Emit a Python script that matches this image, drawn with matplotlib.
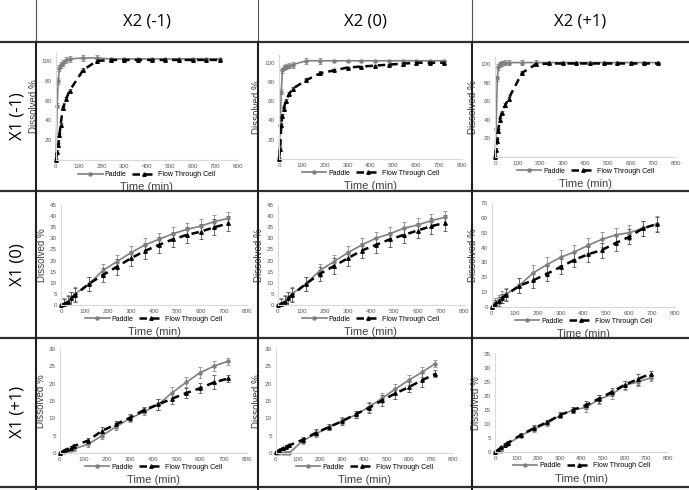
import matplotlib
matplotlib.use("Agg")
import matplotlib.pyplot as plt
from matplotlib.lines import Line2D
import numpy as np

plt.rcParams["font.family"] = ["Liberation Sans", "DejaVu Sans"]

W, H = 689, 490

# time points (min)
t_fast = [0, 5, 10, 15, 20, 30, 45, 60, 120, 180, 240, 300, 360, 420, 480, 540, 600, 660, 720]
t_slow = [0, 15, 30, 45, 60, 120, 180, 240, 300, 360, 420, 480, 540, 600, 660, 720]

col_labels = ["X2 (-1)", "X2 (0)", "X2 (+1)"]
row_labels = ["X1 (-1)", "X1 (0)", "X1 (+1)"]

# row X1(-1)
pad_00 = [0, 55, 80, 93, 96, 98, 101, 102, 103, 103, 102, 102, 102, 102, 102, 102, 102, 102, 102]
ftc_00 = [0, 8, 15, 25, 35, 52, 62, 70, 91, 100, 101, 101, 101, 101, 101, 101, 101, 101, 101]
pad_01 = [0, 35, 70, 92, 95, 96, 97, 98, 102, 102, 102, 102, 102, 102, 102, 102, 102, 102, 102]
ftc_01 = [0, 10, 35, 45, 52, 60, 68, 73, 82, 89, 92, 95, 96, 97, 98, 99, 100, 100, 100]
pad_02 = [0, 30, 85, 97, 100, 101, 102, 102, 102, 102, 102, 102, 102, 102, 102, 102, 102, 102, 102]
ftc_02 = [0, 8, 17, 28, 40, 48, 56, 63, 91, 100, 101, 101, 101, 101, 101, 101, 101, 101, 101]
pad_err_0 = [0, 3, 3, 3, 3, 3, 3, 3, 3, 3, 1, 1, 1, 1, 1, 1, 1, 1, 1]
ftc_err_0 = [0, 2, 2, 2, 2, 2, 2, 2, 2, 2, 1, 1, 1, 1, 1, 1, 1, 1, 1]

# row X1(0)
pad_10 = [0, 0.5, 1.5, 3, 5, 9.5, 15.5, 19.5, 23.5, 27, 29.5, 32, 34, 35.5, 37.5, 39]
ftc_10 = [0, 0.5, 1.5, 3, 4.5, 9.5, 13.5, 17.2, 21, 24.3, 27, 29.5, 31.5, 33, 35, 36.7]
pad_11 = [0, 0.5, 1.5, 3, 5, 9.5, 15.5, 19.5, 23.5, 27, 30, 32, 34.5, 36, 38, 39.5]
ftc_11 = [0, 0.5, 1.5, 3, 4.5, 9.5, 14, 17.5, 21, 24.5, 27, 29.5, 31.5, 33.5, 35.5, 37]
pad_12 = [0, 3, 5, 7, 8.5, 14.5, 23, 28.5, 33.5, 37, 41.5, 45.5, 48.5, 50, 53, 56]
ftc_12 = [0, 2, 4, 6, 8, 14.3, 18, 22.3, 27, 31.7, 35.5, 38.3, 43, 47.2, 53, 55.7]
pad_err_1 = [0, 2.5, 3, 3, 3, 3, 3, 3, 3, 3, 3, 3, 3, 3, 3, 3]
ftc_err_1 = [0, 2, 2.5, 3, 3, 3, 3, 3.5, 3.5, 3.5, 3.5, 3.5, 3.5, 3.5, 3.5, 3.5]
pad_err_12 = [0, 3, 3, 4, 4, 5, 5, 5, 5, 5, 5, 5, 5, 5, 5, 5]
ftc_err_12 = [0, 3, 3, 3, 4, 5, 5, 5, 5, 5, 5, 5, 5, 5, 5, 5]

# row X1(+1)
pad_20 = [0, 0.3, 0.5, 1, 1.2, 2.5, 5, 7.6, 10, 11.9, 14, 17.4, 20.4, 23.2, 25.1, 26.5]
ftc_20 = [0, 0.6, 1.2, 1.5, 2, 3.6, 6.4, 8.3, 10.2, 12.4, 14, 15.7, 17.3, 18.7, 20.4, 21.5]
pad_21 = [0, 0, 0, 0, 0, 3.5, 5.5, 7.5, 9.3, 11, 13.3, 15.8, 18.5, 21, 23.3, 25.8]
ftc_21 = [0.3, 0.8, 1.3, 1.8, 2.2, 3.8, 5.8, 7.5, 9.2, 11.2, 13, 15.2, 17.2, 19, 21, 22.8]
pad_22 = [0, 0.3, 0.5, 2.5, 2.9, 5.9, 8.2, 10.2, 13, 15, 15.9, 18.8, 20.6, 23.8, 25, 26.5]
ftc_22 = [0, 0.8, 1.8, 2.6, 3.3, 6.1, 8.5, 10.6, 13.2, 15, 16.7, 19, 21.4, 24, 26, 28]
pad_err_2 = [0, 0.3, 0.3, 0.5, 0.5, 0.8, 1, 1, 1, 1, 1.5, 1.5, 1.5, 1.5, 1.5, 1]
ftc_err_2 = [0, 0.3, 0.3, 0.5, 0.5, 0.8, 1, 1, 1, 1, 1.5, 1.5, 1.5, 1.5, 2, 1]

# panel boxes in pixels: left, right, bottom, top
boxes = [
    [(56, 238, 160, 53), (279, 462, 159, 55), (495, 676, 157, 57)],
    [(61, 247, 305, 205), (278, 464, 305, 205), (492, 675, 307, 203)],
    [(60, 247, 453, 349), (276, 453, 453, 349), (495, 668, 452, 354)],
]
panels = [
    [(t_fast, pad_00, ftc_00, pad_err_0, ftc_err_0, 108, [20, 40, 60, 80, 100]),
     (t_fast, pad_01, ftc_01, pad_err_0, ftc_err_0, 108, [20, 40, 60, 80, 100]),
     (t_fast, pad_02, ftc_02, pad_err_0, ftc_err_0, 108, [20, 40, 60, 80, 100])],
    [(t_slow, pad_10, ftc_10, pad_err_1, ftc_err_1, 45, list(range(0, 50, 5))),
     (t_slow, pad_11, ftc_11, pad_err_1, ftc_err_1, 45, list(range(0, 50, 5))),
     (t_slow, pad_12, ftc_12, pad_err_12, ftc_err_12, 70, list(range(0, 80, 10)))],
    [(t_slow, pad_20, ftc_20, pad_err_2, ftc_err_2, 30, list(range(0, 35, 5))),
     (t_slow, pad_21, ftc_21, pad_err_2, ftc_err_2, 30, list(range(0, 35, 5))),
     (t_slow, pad_22, ftc_22, pad_err_2, ftc_err_2, 35, list(range(0, 40, 5)))],
]

fig = plt.figure(figsize=(W / 100, H / 100), dpi=100)
fig.patch.set_facecolor("white")


def draw_panel(box, t, pad, ftc, pe, fe, ymax, yticks):
    l, r, b, tp = box
    ax = fig.add_axes([l / W, 1 - b / H, (r - l) / W, (b - tp) / H])
    c1 = ax.errorbar(t, pad, yerr=pe, color="#7f7f7f", lw=1.2, marker="o", ms=2.2,
                     ecolor="#8c8c8c", elinewidth=0.6, capsize=1.5, capthick=0.6)
    c2 = ax.errorbar(t, ftc, yerr=fe, color="black", lw=1.8, ls=(0, (3, 2)), marker="^", ms=2.5,
                     ecolor="#555555", elinewidth=0.6, capsize=1.5, capthick=0.6)
    for c in (c1, c2):
        c[0].set_clip_on(False)
    ax.set_xlim(0, 800)
    ax.set_ylim(0, ymax)
    ax.set_xticks(range(0, 900, 100))
    ax.set_yticks(yticks)
    ax.tick_params(labelsize=4.5, colors="#595959", length=0, pad=3)
    for s in ["top", "right"]:
        ax.spines[s].set_visible(False)
    for s in ["left", "bottom"]:
        ax.spines[s].set_color("#d9d9d9")
        ax.spines[s].set_linewidth(0.8)
    ax.set_ylabel("Dissolved %", fontsize=7, color="#404040", labelpad=2)
    ax.set_xlabel("Time (min)", fontsize=8, color="#404040", labelpad=9)
    ax.legend([c1[0], c2[0]], ["Paddle", "Flow Through Cell"], loc="upper center",
              bbox_to_anchor=(0.5, -0.105), ncol=2, frameon=False,
              fontsize=5, handlelength=3.5, columnspacing=0.8, handletextpad=0.3,
              borderpad=0, borderaxespad=0)
    return ax


for i in range(3):
    for j in range(3):
        draw_panel(boxes[i][j], *panels[i][j])

# table grid
def fline(x0, y0, x1, y1, lw, c):
    fig.add_artist(Line2D([x0 / W, x1 / W], [1 - y0 / H, 1 - y1 / H], lw=lw, color=c))

for y in [42, 191, 338]:
    fline(0, y, W, y, 1.6, "#303030")
fline(0, 487, W, 487, 1.6, "#303030")
for x in [36, 258, 472]:
    fline(x, 0, x, 42, 0.8, "#505050")
    fline(x, 42, x, H, 1.5, "#202020")

col_x = [147, 365, 580]
for x, s in zip(col_x, col_labels):
    fig.text(x / W, 1 - 21 / H, s, ha="center", va="center", fontsize=12,
             family=["Open Sans", "DejaVu Sans"])
row_y = [116, 265, 412]
for y, s in zip(row_y, row_labels):
    fig.text(17 / W, 1 - y / H, s, ha="center", va="center", fontsize=12, rotation=90,
             family=["Open Sans", "DejaVu Sans"])

fig.savefig("out.png", dpi=100, facecolor="white")
